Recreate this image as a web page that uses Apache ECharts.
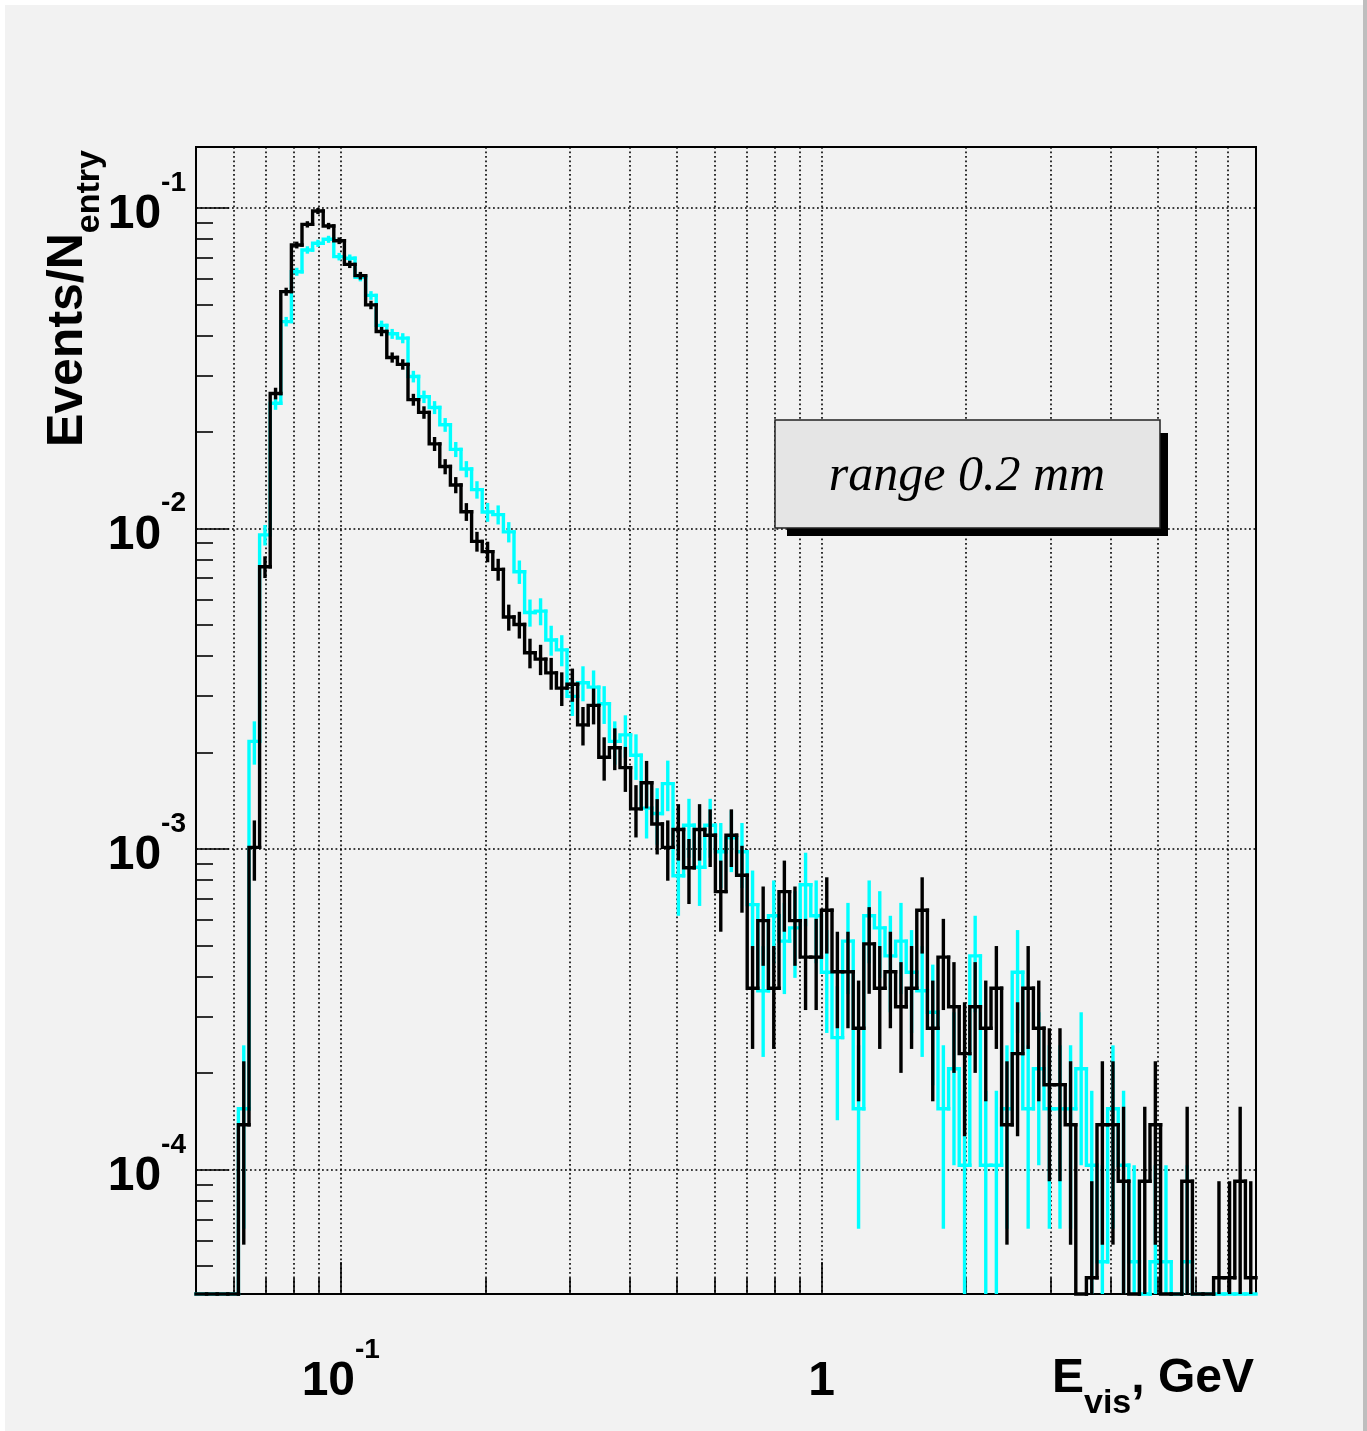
<!DOCTYPE html>
<html>
<head>
<meta charset="utf-8">
<script src="https://cdn.jsdelivr.net/npm/echarts@6/dist/echarts.min.js"></script>
<style>
html, body { margin: 0; padding: 0; background: #ffffff; }
#chart { width: 1367px; height: 1431px; }
</style>
</head>
<body>
<div id="chart"></div>
<script>
// ---------------- data ----------------
// histogram binning: 100 bins, uniform in log(E), from 0.05 to 8 GeV
const X_MIN = 0.05;
const X_MAX = 8;
const N_BINS = 100;
// y-axis range (Events/N_entry)
const Y_MIN = 4.1e-5;
const Y_MAX = 0.155;
// normalisation (number of entries) of each histogram
const N_ENTRY_BLACK = 21700;
const N_ENTRY_CYAN = 19350;

// bin contents (events per bin)
const blackCounts = [
  0, 0, 0, 0, 3, 22, 165, 573, 1190, 1664,
  1930, 2124, 1907, 1716, 1448, 1335, 1082, 894, 742, 706,
  548, 500, 399, 339, 297, 245, 198, 184, 162, 115,
  109, 89, 85, 77, 69, 71, 53, 61, 42, 45,
  39, 29, 35, 26, 22, 25, 19, 25, 24, 16,
  24, 18, 8, 13, 8, 16, 13, 10, 10, 14,
  9, 9, 6, 11, 8, 9, 7, 8, 14, 6,
  10, 7, 5, 7, 6, 8, 3, 5, 8, 6,
  4, 4, 3, 0, 1, 3, 3, 2, 0, 2,
  3, 0, 0, 2, 0, 0, 1, 1, 2, 1
];
const cyanCounts = [
  0, 0, 0, 0, 3, 42, 185, 476, 856, 1225,
  1432, 1502, 1546, 1365, 1349, 1177, 1033, 833, 784, 760,
  577, 499, 462, 408, 342, 297, 256, 218, 214, 189,
  142, 106, 107, 87, 81, 58, 64, 62, 55, 42,
  44, 38, 26, 25, 31, 16, 23, 17, 23, 19,
  21, 19, 13, 7, 12, 10, 11, 15, 12, 8,
  5, 10, 3, 12, 11, 9, 10, 8, 7, 6,
  3, 4, 2, 9, 2, 2, 3, 8, 3, 4,
  3, 3, 3, 4, 2, 1, 3, 2, 1, 0,
  1, 1, 0, 1, 0, 0, 0, 0, 0, 0
];

// axis decorations
const xMajorTicks = [0.1, 1];
const xMinorTicks = [0.06, 0.07, 0.08, 0.09, 0.2, 0.3, 0.4, 0.5, 0.6, 0.7, 0.8, 0.9, 2, 3, 4, 5, 6, 7];
const yMajorTicks = [1e-4, 1e-3, 1e-2, 1e-1];
const yMinorMantissas = [2, 3, 4, 5, 6, 7, 8, 9];
const yDecades = [-5, -4, -3, -2, -1];

const boxText = 'range 0.2 mm';
const xTitle = '{b|E}{sub|vis}{b|, GeV}';
const yTitle = '{b|Events/N}{sub|entry}';

// ---------------- build ----------------
const edges = [];
for (let i = 0; i <= N_BINS; i++) edges.push(X_MIN * Math.pow(X_MAX / X_MIN, i / N_BINS));

const yMinorTicks = [];
yDecades.forEach(d => yMinorMantissas.forEach(m => {
  const v = m * Math.pow(10, d);
  if (v > Y_MIN && v < Y_MAX) yMinorTicks.push(v);
}));

function histData(counts, nEntry) {
  return counts.map((c, i) => {
    const v = c / nEntry;
    const e = Math.sqrt(c) / nEntry;
    const pv = i > 0 ? counts[i - 1] / nEntry : 0;
    return [edges[i], edges[i + 1], Math.max(v, Y_MIN), e, Math.max(pv, Y_MIN), v];
  });
}

const LW = 3.4;

function histRender(color, width) {
  return function (params, api) {
    const lo = api.value(0), hi = api.value(1), vp = api.value(2), e = api.value(3), pvp = api.value(4), v = api.value(5);
    const a = api.coord([lo, pvp]);
    const b = api.coord([lo, vp]);
    const c = api.coord([hi, vp]);
    const children = [{
      type: 'polyline',
      shape: { points: [a, b, c] },
      style: { stroke: color, lineWidth: width, fill: null, lineCap: 'square', lineJoin: 'miter' }
    }];
    if (v > 0) {
      const xc = (lo + hi) / 2;
      const top = api.coord([xc, v + e]);
      const bot = api.coord([xc, Math.max(v - e, Y_MIN)]);
      children.push({
        type: 'line',
        shape: { x1: top[0], y1: top[1], x2: bot[0], y2: bot[1] },
        style: { stroke: color, lineWidth: width, lineCap: 'butt' }
      });
    }
    return { type: 'group', children: children };
  };
}

function ln(x1, y1, x2, y2, style) {
  return { type: 'line', shape: { x1: x1, y1: y1, x2: x2, y2: y2 }, style: style };
}

function decorRender(params, api) {
  const children = [];
  const dot = { stroke: '#000', lineWidth: 1.6, lineDash: [1.8, 2.7] };
  const tick = { stroke: '#000', lineWidth: 1.6 };
  const p0 = api.coord([X_MIN, Y_MIN]);
  const p1 = api.coord([X_MAX, Y_MAX]);
  const xl = p0[0], yb = p0[1], xr = p1[0], yt = p1[1];
  xMinorTicks.concat(xMajorTicks).forEach(x => {
    const px = Math.round(api.coord([x, Y_MIN])[0]);
    children.push(ln(px, yt, px, yb, dot));
  });
  yMajorTicks.forEach(y => {
    const py = Math.round(api.coord([X_MIN, y])[1]);
    children.push(ln(xl, py, xr, py, dot));
  });
  xMinorTicks.forEach(x => {
    const px = Math.round(api.coord([x, Y_MIN])[0]);
    children.push(ln(px, yb, px, yb - 16, tick));
  });
  xMajorTicks.forEach(x => {
    const px = Math.round(api.coord([x, Y_MIN])[0]);
    children.push(ln(px, yb, px, yb - 32, tick));
  });
  yMinorTicks.forEach(y => {
    const py = Math.round(api.coord([X_MIN, y])[1]);
    children.push(ln(xl, py, xl + 17, py, tick));
  });
  yMajorTicks.forEach(y => {
    const py = Math.round(api.coord([X_MIN, y])[1]);
    children.push(ln(xl, py, xl + 33, py, tick));
  });
  return { type: 'group', children: children };
}

function powLabel(v) {
  const l = Math.log10(v);
  const n = Math.round(l);
  if (Math.abs(l - n) > 1e-6) return '';
  if (n === 0) return '{b|1}';
  return '{b|10}{s|' + n + '}';
}

const FONT = '"Liberation Sans", Arial, Helvetica, sans-serif';
const labelRich = {
  b: { fontFamily: FONT, fontWeight: 'bold', fontSize: 48, lineHeight: 70, verticalAlign: 'bottom', color: '#000' },
  s: { fontFamily: FONT, fontWeight: 'bold', fontSize: 28, lineHeight: 54, verticalAlign: 'top', color: '#000' }
};

const chart = echarts.init(document.getElementById('chart'), null, { renderer: 'canvas', width: 1367, height: 1431 });

const option = {
  animation: false,
  backgroundColor: '#f2f2f2',
  grid: {
    left: 196, top: 147, width: 1060, height: 1147,
    show: true, backgroundColor: 'transparent', borderColor: '#000', borderWidth: 2
  },
  xAxis: {
    type: 'log', logBase: 10, min: X_MIN, max: X_MAX,
    axisLine: { show: false }, axisTick: { show: false }, splitLine: { show: false },
    axisLabel: {
      margin: 42, formatter: powLabel, rich: labelRich,
      fontFamily: FONT, fontWeight: 'bold', fontSize: 48, color: '#000'
    }
  },
  yAxis: {
    type: 'log', logBase: 10, min: Y_MIN, max: Y_MAX,
    axisLine: { show: false }, axisTick: { show: false }, splitLine: { show: false },
    axisLabel: {
      margin: 10, formatter: powLabel, rich: labelRich, padding: [0, 0, 8, 0],
      fontFamily: FONT, fontWeight: 'bold', fontSize: 48, color: '#000'
    }
  },
  series: [
    {
      type: 'custom', name: 'decor', z: 1, silent: true,
      renderItem: decorRender,
      data: [[1, 1e-3]],
      encode: { x: 0, y: 1 }
    },
    {
      type: 'custom', name: 'cyan', z: 2, silent: true,
      renderItem: histRender('#00ffff', LW),
      data: histData(cyanCounts, N_ENTRY_CYAN),
      encode: { x: [0, 1], y: 2 }
    },
    {
      type: 'custom', name: 'black', z: 3, silent: true,
      renderItem: histRender('#000000', LW),
      data: histData(blackCounts, N_ENTRY_BLACK),
      encode: { x: [0, 1], y: 2 }
    }
  ],
  graphic: [
    // canvas border (ROOT 3D frame)
    { type: 'rect', shape: { x: 0, y: 0, width: 5, height: 1431 }, style: { fill: '#ffffff' }, silent: true },
    { type: 'rect', shape: { x: 0, y: 0, width: 1367, height: 5 }, style: { fill: '#ffffff' }, silent: true },
    { type: 'rect', shape: { x: 1363, y: 0, width: 4, height: 1431 }, style: { fill: '#bebebe' }, silent: true },
    // pave with shadow
    { type: 'rect', z: 10, shape: { x: 787, y: 433, width: 381, height: 103 }, style: { fill: '#000' }, silent: true },
    { type: 'rect', z: 11, shape: { x: 775, y: 420, width: 385, height: 108 }, style: { fill: '#e5e5e5', stroke: '#222', lineWidth: 1.5 }, silent: true },
    {
      type: 'text', z: 12, x: 967, y: 477, silent: true,
      style: {
        text: boxText, align: 'center', verticalAlign: 'middle',
        fontFamily: '"Liberation Serif", "Times New Roman", serif', fontStyle: 'italic', fontSize: 50, fill: '#000'
      }
    },
    // axis titles
    {
      type: 'text', z: 12, x: 1254, y: 1355, silent: true,
      style: {
        text: xTitle, align: 'right', verticalAlign: 'top', fill: '#000',
        rich: {
          b: { fontFamily: FONT, fontWeight: 'bold', fontSize: 48, lineHeight: 66, verticalAlign: 'top', fill: '#000' },
          sub: { fontFamily: FONT, fontWeight: 'bold', fontSize: 34, lineHeight: 66, verticalAlign: 'bottom', fill: '#000' }
        }
      }
    },
    {
      type: 'text', z: 12, x: 75, y: 150, rotation: Math.PI / 2, silent: true,
      style: {
        text: yTitle, align: 'right', verticalAlign: 'middle', fill: '#000',
        rich: {
          b: { fontFamily: FONT, fontWeight: 'bold', fontSize: 50, lineHeight: 63, verticalAlign: 'top', fill: '#000' },
          sub: { fontFamily: FONT, fontWeight: 'bold', fontSize: 34, lineHeight: 63, verticalAlign: 'bottom', fill: '#000' }
        }
      }
    }
  ]
};
chart.setOption(option);
</script>
</body>
</html>
